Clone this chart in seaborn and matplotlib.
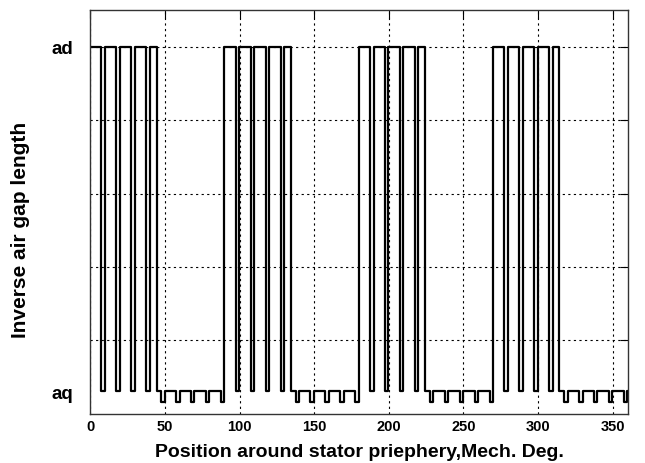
import matplotlib
matplotlib.use("Agg")
import matplotlib.pyplot as plt
import numpy as np
import pandas as pd
import seaborn as sns

# ---- data ----
ad_level = 5.0        # inverse air gap under the pole (d-axis)
aq_level = 0.31       # inverse air gap between poles (q-axis)
aq_slot_level = 0.16  # slot opening between poles
pole_start = [0.0, 89.8, 179.8, 269.8]
pole_end = [44.5, 134.3, 224.5, 314.3]
slot_start = [7.5, 17.5, 27.5, 37.5, 47.5, 57.5, 67.5, 77.5, 87.5,
              97.5, 107.5, 117.5, 127.5, 137.5, 147.5, 157.5, 167.5, 177.5,
              187.5, 197.5, 207.5, 217.5, 227.5, 237.5, 247.5, 257.5, 267.5,
              277.5, 287.5, 297.5, 307.5, 317.5, 327.5, 337.5, 347.5, 357.5]
slot_width = 2.3
x_ticks = [0, 50, 100, 150, 200, 250, 300, 350]
y_ticks = [aq_level, 1, 2, 3, 4, 5]
y_ticklabels = ["aq", "", "", "", "", "ad"]

# ---- build the step waveform from the values above ----
events = sorted(set([0.0, 360.0] + pole_start + pole_end + slot_start +
                    [s + slot_width for s in slot_start]))
events = [e for e in events if 0.0 <= e <= 360.0]
levels = []
for a, b in zip(events[:-1], events[1:]):
    m = 0.5 * (a + b)
    in_pole = any(ps <= m < pe for ps, pe in zip(pole_start, pole_end))
    in_slot = any(s <= m < s + slot_width for s in slot_start)
    if in_pole:
        levels.append(aq_level if in_slot else ad_level)
    else:
        levels.append(aq_slot_level if in_slot else aq_level)
levels.append(levels[-1])
df = pd.DataFrame({"pos": events, "inv": levels})

# ---- plot ----
sns.set_style("white")
plt.rcParams["font.family"] = ["Liberation Sans", "DejaVu Sans"]
plt.rcParams["text.color"] = "black"
plt.rcParams["axes.labelcolor"] = "black"
plt.rcParams["xtick.color"] = "black"
plt.rcParams["ytick.color"] = "black"
fig = plt.figure(figsize=(6.45, 4.64), dpi=100)
ax = fig.add_axes([0.140, 0.106, 0.833, 0.870])

sns.lineplot(data=df, x="pos", y="inv", drawstyle="steps-post",
             estimator=None, sort=False, color="black", linewidth=1.6, ax=ax)

ax.set_xlim(0, 360)
ax.set_ylim(0, 5.5)
ax.set_xticks(x_ticks)
ax.set_xticklabels([str(t) for t in x_ticks], fontsize=10.5, fontweight="bold")
ax.set_yticks(y_ticks)
ax.set_yticklabels(y_ticklabels, fontsize=13.5, fontweight="bold")

ax.grid(True, color="black", linestyle=(0, (2, 3)), linewidth=0.8)
ax.tick_params(axis="both", direction="in", top=True, right=True,
               length=6, width=0.8, colors="black")
ax.tick_params(axis="y", pad=12)
ax.tick_params(axis="x", pad=4)

t0 = ax.yaxis.get_major_ticks()[0]
t0.tick1line.set_visible(False)
t0.tick2line.set_visible(False)
t0.gridline.set_visible(False)

for sp in ax.spines.values():
    sp.set_visible(True)
    sp.set_color("#333333")
    sp.set_linewidth(1.0)

ax.set_xlabel("Position around stator priephery,Mech. Deg.",
              fontsize=14, fontweight="bold", labelpad=7, color="black")
ax.set_ylabel("Inverse air gap length", fontsize=15, fontweight="bold",
              color="black")
ax.yaxis.set_label_coords(-0.112, 0.458)

fig.savefig("out.png", dpi=100, facecolor="white")
